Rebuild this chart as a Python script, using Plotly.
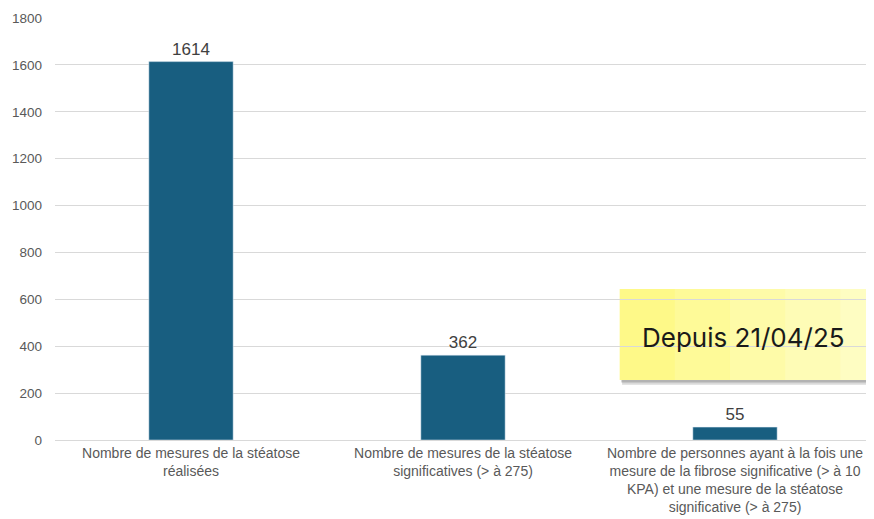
import plotly.graph_objects as go

categories = [
    "Nombre de mesures de la stéatose<br>réalisées",
    "Nombre de mesures de la stéatose<br>significatives (> à 275)",
    "Nombre de personnes ayant à la fois une<br>mesure de la fibrose significative (> à 10<br>KPA) et une mesure de la stéatose<br>significative (> à 275)",
]
values = [1614, 362, 55]
y_ticks = [0, 200, 400, 600, 800, 1000, 1200, 1400, 1600, 1800]

bar_color = "#185E80"
font_main = "Liberation Sans, Arial, sans-serif"

fig = go.Figure()
fig.add_trace(go.Bar(
    x=categories, y=values,
    marker_color=bar_color,
    text=[str(v) for v in values],
    textposition="outside",
    textfont=dict(size=17, color="#404040", family=font_main),
    cliponaxis=False,
    showlegend=False,
))

# yellow note box: soft shadow, then overlapping rects for a light gradient
box_x0, box_x1, box_y0, box_y1 = 0.692, 1.03, 0.142, 0.358
fig.add_shape(type="rect", xref="paper", yref="paper",
              x0=box_x0 + 0.003, x1=box_x1, y0=box_y0 - 0.011, y1=box_y1 - 0.01,
              fillcolor="rgba(150,150,150,0.35)", line_width=0, layer="below")
fig.add_shape(type="rect", xref="paper", yref="paper",
              x0=box_x0 + 0.002, x1=box_x1, y0=box_y0 - 0.006, y1=box_y1 - 0.01,
              fillcolor="rgba(120,120,120,0.4)", line_width=0, layer="below")
strip_colors = ["#FEF988", "#FEFA98", "#FEFBA8", "#FEFCB6", "#FEFDC2"]
n = len(strip_colors)
for i, c in enumerate(strip_colors):
    fig.add_shape(type="rect", xref="paper", yref="paper",
                  x0=box_x0 + (box_x1 - box_x0) * i / n, x1=box_x1,
                  y0=box_y0, y1=box_y1,
                  fillcolor=c, line_width=0, layer="below")
fig.add_annotation(text="Depuis 21/04/25", xref="paper", yref="paper",
                   x=0.844, y=0.242, xanchor="center", yanchor="middle",
                   showarrow=False,
                   font=dict(size=26, color="#1a1a1a", family="Inter, Open Sans, sans-serif"))

# page body has an 8px default margin, so the figure is sized to fit the window
fig.update_layout(
    width=866, height=511,
    margin=dict(l=47, r=3, t=10, b=79),
    paper_bgcolor="white",
    plot_bgcolor="rgba(0,0,0,0)",
    bargap=0.69,
    font=dict(family=font_main, color="#595959"),
)
fig.update_xaxes(
    automargin=False,
    showgrid=False, showline=True, linecolor="#d9d9d9", linewidth=1,
    ticks="", tickfont=dict(size=14, color="#595959"),
)
fig.update_yaxes(
    automargin=False,
    range=[0, 1800], tickvals=y_ticks, showgrid=True, gridcolor="#d9d9d9",
    zeroline=False, showline=False, ticklabelstandoff=12,
    tickfont=dict(size=13.5, color="#595959"),
)

fig.write_html("out.html")
